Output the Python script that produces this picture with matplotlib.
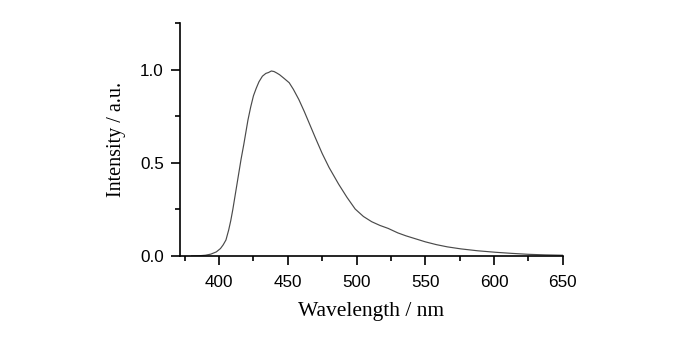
import matplotlib
matplotlib.use('agg')
import matplotlib.pyplot as plt
from matplotlib.ticker import MultipleLocator

# emission spectrum
wavelength = [380, 385, 390, 394, 398, 401, 403, 405, 407, 408.5, 410, 412, 414, 416, 418,
              419.5, 421, 423, 425, 427, 429, 431.5, 434, 436, 438, 440, 442, 444, 447,
              451, 454, 458, 462, 466, 470, 475, 480, 487, 493, 499, 505, 511, 517, 523,
              530, 536, 543, 550, 558, 566, 576, 588, 601, 613, 625, 637, 650]
intensity = [0.0, 0.001, 0.004, 0.01, 0.022, 0.04, 0.06, 0.086, 0.14, 0.19, 0.25, 0.34,
             0.43, 0.52, 0.60, 0.665, 0.73, 0.80, 0.86, 0.90, 0.935, 0.965, 0.98, 0.985,
             0.993, 0.99, 0.982, 0.973, 0.955, 0.93, 0.895, 0.84, 0.775, 0.705, 0.635, 0.55,
             0.475, 0.385, 0.315, 0.252, 0.212, 0.184, 0.164, 0.148, 0.124, 0.108, 0.092,
             0.076, 0.061, 0.049, 0.038, 0.028, 0.02, 0.014, 0.009, 0.006, 0.004]

fig = plt.figure(figsize=(7, 3.45), dpi=100)
ax = fig.add_axes([0.257, 0.258, 0.547, 0.675])

ax.plot(wavelength, intensity, color='#4a4a4a', linewidth=0.85)

ax.set_xlim(371.5, 650)
ax.set_ylim(0, 1.25)
ax.xaxis.set_major_locator(MultipleLocator(50))
ax.xaxis.set_minor_locator(MultipleLocator(25))
ax.yaxis.set_major_locator(MultipleLocator(0.5))
ax.yaxis.set_minor_locator(MultipleLocator(0.25))
ax.set_yticks([0.0, 0.5, 1.0])
ax.set_yticklabels(['0.0', '0.5', '1.0'])

ax.spines['top'].set_visible(False)
ax.spines['right'].set_visible(False)
ax.spines['left'].set_linewidth(1.2)
ax.spines['bottom'].set_linewidth(1.2)
ax.tick_params(which='major', direction='out', length=6.5, width=1.2, labelsize=12.3)
ax.tick_params(axis='x', which='major', pad=7)
ax.tick_params(axis='y', which='major', pad=5)
ax.tick_params(which='minor', direction='out', length=3.5, width=1.2)
for lbl in ax.get_xticklabels() + ax.get_yticklabels():
    lbl.set_fontfamily('Liberation Sans')

ax.set_xlabel('Wavelength / nm', fontfamily='Liberation Serif', fontsize=15.5, labelpad=9)
ax.set_ylabel('Intensity / a.u.', fontfamily='Liberation Serif', fontsize=14.5, labelpad=10)

fig.savefig('out.png', dpi=100)
